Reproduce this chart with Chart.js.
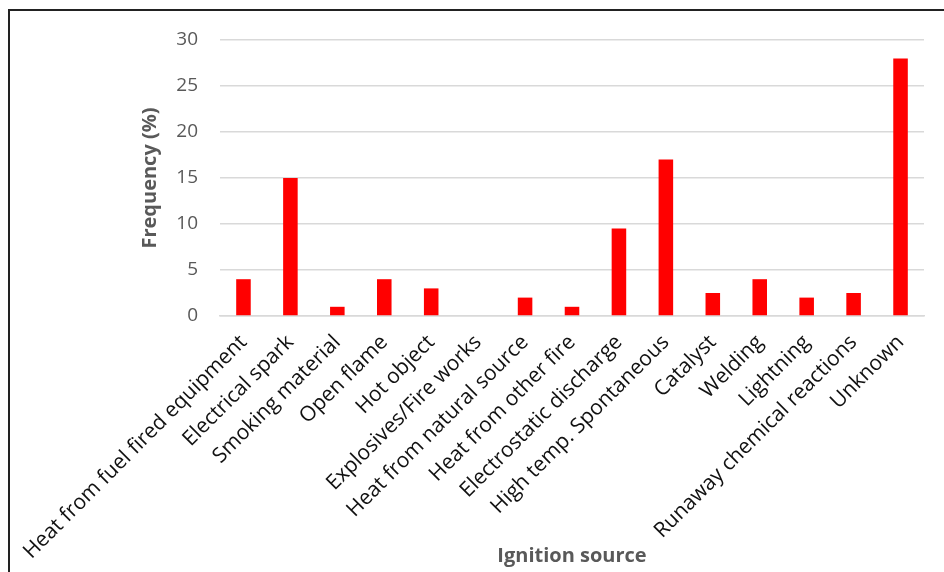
<!DOCTYPE html>
<html>
<head>
<meta charset="utf-8">
<script src="https://cdn.jsdelivr.net/npm/chart.js@4/dist/chart.umd.min.js"></script>
<style>
  body { margin: 0; background: #fff; overflow: hidden; }
  #box {
    position: absolute; left: 8px; top: 9px;
    width: 960px; height: 600px;
    border-top: 2px solid #222; border-left: 2px solid #222;
  }
  #wrap { position: relative; width: 934px; height: 561px; }
</style>
</head>
<body>
<div id="box"><div id="wrap"><canvas id="chart"></canvas></div></div>
<script>
const fuentes = [
  "Heat from fuel fired equipment", "Electrical spark", "Smoking material",
  "Open flame", "Hot object", "Explosives/Fire works", "Heat from natural source",
  "Heat from other fire", "Electrostatic discharge", "High temp. Spontaneous",
  "Catalyst", "Welding", "Lightning", "Runaway chemical reactions", "Unknown"
];
const frecuencia = [4, 15, 1, 4, 3, 0, 2, 1, 9.5, 17, 2.5, 4, 2, 2.5, 28];
const yTicks = [0, 5, 10, 15, 20, 25, 30];

const FONT = "'Open Sans', sans-serif";
const GRIS = "#595959";

new Chart(document.getElementById("chart"), {
  type: "bar",
  data: {
    labels: fuentes,
    datasets: [{
      data: frecuencia,
      backgroundColor: "#ff0000",
      barPercentage: 0.31,
      categoryPercentage: 1
    }]
  },
  options: {
    responsive: true,
    maintainAspectRatio: false,
    animation: false,
    layout: { padding: { top: 0, right: 20, bottom: 0, left: 0 } },
    plugins: { legend: { display: false }, tooltip: { enabled: false } },
    scales: {
      x: {
        afterFit: s => { s.height = 256; },
        grid: { display: false },
        border: { color: "#d9d9d9", width: 1.5 },
        ticks: {
          color: "#111",
          font: { family: FONT, size: 21 },
          minRotation: 45, maxRotation: 45,
          autoSkip: false,
          padding: 6
        },
        title: {
          display: true, text: "Ignition source", color: GRIS,
          font: { family: FONT, size: 20, weight: "bold" },
          padding: { top: 0, bottom: 4 }
        }
      },
      y: {
        min: 0, max: 30,
        afterBuildTicks: s => { s.ticks = yTicks.map(v => ({ value: v })); },
        // fixed axis box so the plot starts where the gridlines start
        afterFit: s => { s.width = 210; s.paddingTop = 29; },
        grid: { color: "#d9d9d9", lineWidth: 1.5, drawTicks: false },
        border: { display: false },
        ticks: {
          color: GRIS,
          font: { family: FONT, size: 19 },
          padding: 22
        },
        title: {
          display: true, text: "Frequency (%)", color: GRIS,
          font: { family: FONT, size: 20, weight: "bold" },
          padding: { top: 128, bottom: 0 }
        }
      }
    }
  }
});
</script>
</body>
</html>
